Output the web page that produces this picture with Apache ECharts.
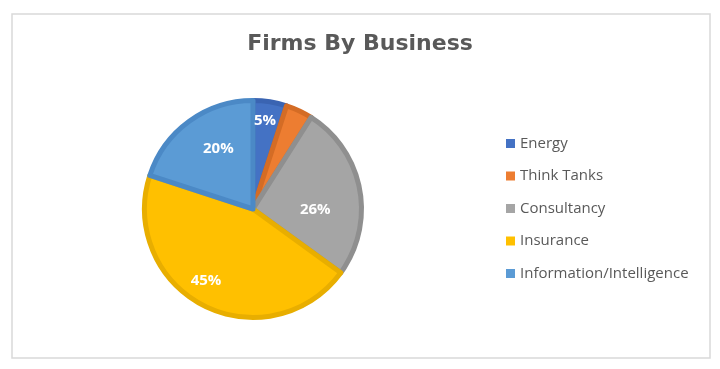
<!DOCTYPE html>
<html>
<head>
<meta charset="utf-8">
<title>Firms By Business</title>
<script src="https://cdn.jsdelivr.net/npm/echarts@6/dist/echarts.min.js"></script>
<style>
  html, body { margin: 0; padding: 0; background: #ffffff; }
  #chart { width: 720px; height: 369px; }
</style>
</head>
<body>
<div id="chart"></div>
<script>
// Share of firms by line of business (percent)
const categories = ['Energy', 'Think Tanks', 'Consultancy', 'Insurance', 'Information/Intelligence'];
const shares = [5, 4, 26, 45, 20];
// Which slices carry a percentage label
const showLabel = [true, false, true, true, true];

// Office palette: slice fill and a darker rim for each slice
const fills = ['#4472C4', '#ED7D31', '#A5A5A5', '#FFC000', '#5B9BD5'];
const rims = ['#3A64B2', '#D46C25', '#8F8F8F', '#E8AE00', '#4B89C6'];

// Nudges that move each percentage away from the mid-radius spot
const labelNudge = [[3, -32], [0, 0], [6, 11], [-21, 21], [-1, -14]];

const chart = echarts.init(document.getElementById('chart'), null, { renderer: 'canvas' });

const pieData = categories.map((name, i) => ({
  name: name,
  value: shares[i],
  itemStyle: { color: fills[i], borderColor: rims[i] },
  label: { show: showLabel[i] }
}));

chart.setOption({
  animation: false,
  backgroundColor: '#ffffff',
  graphic: [{
    type: 'rect',
    shape: { x: 12, y: 14, width: 698, height: 344 },
    style: { fill: 'none', stroke: '#d9d9d9', lineWidth: 1.5 },
    silent: true
  }],
  title: {
    text: 'Firms By Business',
    left: 'center',
    top: 28,
    textStyle: {
      fontFamily: 'DejaVu Sans',
      fontWeight: 'bold',
      fontSize: 22,
      color: '#595959'
    }
  },
  legend: {
    orient: 'vertical',
    left: 501,
    top: 131,
    icon: 'rect',
    itemWidth: 9,
    itemHeight: 9,
    itemGap: 17.5,
    selectedMode: false,
    itemStyle: { borderWidth: 0 },
    textStyle: {
      fontFamily: 'Open Sans',
      fontSize: 15,
      color: '#595959'
    },
    data: categories
  },
  series: [{
    type: 'pie',
    center: [253, 209],
    radius: 108.5,
    startAngle: 90,
    clockwise: true,
    avoidLabelOverlap: false,
    itemStyle: { borderWidth: 5 },
    label: {
      position: 'inside',
      formatter: '{c}%',
      color: '#ffffff',
      fontFamily: 'Open Sans',
      fontWeight: 'bold',
      fontSize: 15
    },
    labelLine: { show: false },
    emphasis: { disabled: true },
    labelLayout: function (params) {
      const n = labelNudge[params.dataIndex];
      return { dx: n[0], dy: n[1] };
    },
    data: pieData
  }]
});
</script>
</body>
</html>
